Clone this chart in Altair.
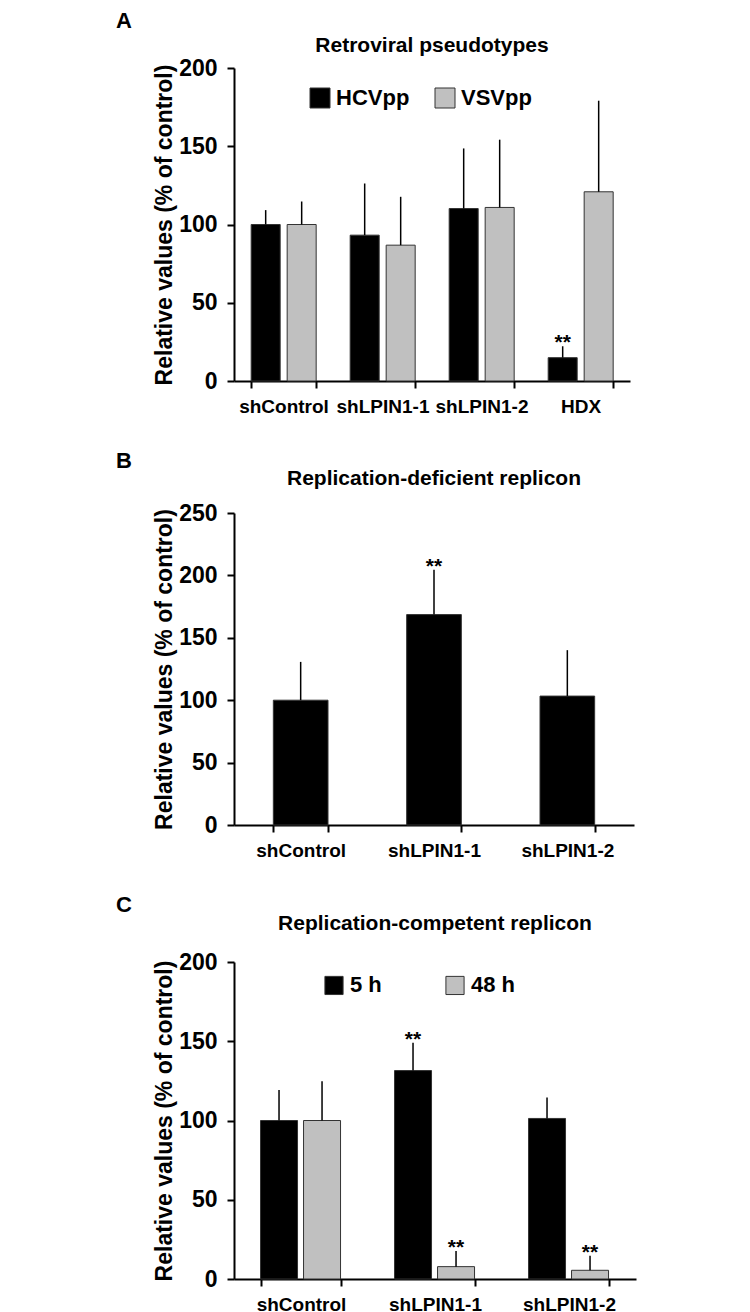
import altair as alt
import pandas as pd

# ---------------- Panel A ----------------
a_categories = ["shControl", "shLPIN1-1", "shLPIN1-2", "HDX"]
a_series = ["HCVpp", "VSVpp"]
a_hcv = [100, 93.2, 110.2, 14.9]
a_hcv_sd = [9.2, 33.0, 38.4, 7.3]
a_hcv_sig = ["", "", "", "**"]
a_vsv = [100, 86.8, 110.9, 120.9]
a_vsv_sd = [14.7, 30.9, 43.3, 58.2]
a_vsv_sig = ["", "", "", ""]

# ---------------- Panel B ----------------
b_categories = ["shControl", "shLPIN1-1", "shLPIN1-2"]
b_values = [100, 168.6, 103.3]
b_sd = [30.7, 36.0, 36.8]
b_sig = ["", "**", ""]

# ---------------- Panel C ----------------
c_categories = ["shControl", "shLPIN1-1", "shLPIN1-2"]
c_series = ["5 h", "48 h"]
c_5h = [100, 131.5, 101.3]
c_5h_sd = [19.3, 17.5, 13.2]
c_5h_sig = ["", "**", ""]
c_48h = [100, 7.8, 5.5]
c_48h_sd = [24.8, 9.8, 9.2]
c_48h_sig = ["", "**", "**"]

BLACK = "#000000"
GRAY = "#c0c0c0"
FONT = "Liberation Sans"
YTITLE = "Relative values (% of control)"


def grouped_df(cats, names, vals, sds, sigs, cf, sf):
    rows = []
    for name, v, s, g in zip(names, vals, sds, sigs):
        for c, vv, ss, gg in zip(cats, v, s, g):
            rows.append({cf: c, sf: name, "value": vv, "top": vv + ss, "sig": gg})
    return pd.DataFrame(rows)


def y_axis(maxv):
    return alt.Axis(values=list(range(0, maxv + 1, 50)), title=YTITLE,
                    titleFontSize=23, titleFontWeight="bold", titlePadding=2,
                    labelFontSize=23, labelFontWeight="bold", labelPadding=10,
                    tickSize=7, grid=False)


x_axis = alt.Axis(title=None, labelAngle=0, labelFontSize=19, labelFontWeight="bold",
                  labelPadding=9, tickSize=7, tickBand="extent", labelOverlap=False,
                  labelLimit=300)


def header_layers(letter, headline, w, letter_y, head_y):
    let = alt.Chart(pd.DataFrame({"t": [letter]})).mark_text(
        fontSize=22, fontWeight="bold", align="left", baseline="alphabetic",
        color="black"
    ).encode(x=alt.value(-118), y=alt.value(letter_y), text="t:N")
    head = alt.Chart(pd.DataFrame({"t": [headline]})).mark_text(
        fontSize=21, fontWeight="bold", align="center", baseline="alphabetic",
        color="black"
    ).encode(x=alt.value(w / 2), y=alt.value(head_y), text="t:N")
    return [let, head]


def grouped_panel(tag, cats, names, vals, sds, sigs, maxv, headline, letter,
                  letter_y, head_y, pin, pon, pair_w, opin, legx, legy, symsize,
                  colpad, w, h):
    cf, sf = "cat" + tag, "series" + tag
    df = grouped_df(cats, names, vals, sds, sigs, cf, sf)
    base = alt.Chart(df)
    xenc = alt.X(f"{cf}:N", sort=cats, axis=x_axis,
                 scale=alt.Scale(paddingInner=pin, paddingOuter=pon))
    xoff = alt.XOffset(f"{sf}:N", sort=names,
                       scale=alt.Scale(domain=names, range=[0, pair_w],
                                       paddingInner=opin, paddingOuter=0))
    yenc = alt.Y("value:Q", axis=y_axis(maxv),
                 scale=alt.Scale(domain=[0, maxv], nice=False))
    bars = base.mark_bar(stroke="#333333", strokeWidth=1).encode(
        x=xenc, xOffset=xoff, y=yenc,
        color=alt.Color(f"{sf}:N", sort=names,
                        scale=alt.Scale(domain=names, range=[BLACK, GRAY]),
                        legend=alt.Legend(title=None, orient="none", legendX=legx,
                                          legendY=legy, direction="horizontal",
                                          symbolType="square", symbolSize=symsize,
                                          symbolStrokeColor="#333333",
                                          symbolStrokeWidth=1, labelFontSize=22,
                                          labelFontWeight="bold", labelOffset=5,
                                          columnPadding=colpad)),
    )
    err = base.mark_rule(color="black", strokeWidth=1.5).encode(
        x=alt.X(f"{cf}:N", sort=cats), xOffset=alt.XOffset(f"{sf}:N", sort=names),
        y="top:Q", y2="value:Q")
    sig = base.mark_text(fontSize=21, fontWeight="bold", baseline="alphabetic",
                         dy=3, color="black").encode(
        x=alt.X(f"{cf}:N", sort=cats), xOffset=alt.XOffset(f"{sf}:N", sort=names),
        y="top:Q", text="sig:N")
    return alt.layer(bars, err, sig,
                     *header_layers(letter, headline, w, letter_y, head_y)).properties(
        width=w, height=h)


chartA = grouped_panel("A", a_categories, a_series, [a_hcv, a_vsv], [a_hcv_sd, a_vsv_sd],
                       [a_hcv_sig, a_vsv_sig], 200, "Retroviral pseudotypes",
                       "A", -40, -16, 0.347, 0.1735, 65, 0.194, 75, 19, 400, 23,
                       396, 313)
chartC = grouped_panel("C", c_categories, c_series, [c_5h, c_48h], [c_5h_sd, c_48h_sd],
                       [c_5h_sig, c_48h_sig], 200, "Replication-competent replicon",
                       "C", -50, -32, 0.396, 0.198, 80, 0.14, 89, 12, 330, 61,
                       402, 317)

WB = 400
dfB = pd.DataFrame({"catB": b_categories, "value": b_values,
                    "top": [v + s for v, s in zip(b_values, b_sd)], "sig": b_sig})
baseB = alt.Chart(dfB)
xB = alt.X("catB:N", sort=b_categories, axis=x_axis,
           scale=alt.Scale(paddingInner=0.59, paddingOuter=0.295))
barsB = baseB.mark_bar(color=BLACK, stroke="#333333", strokeWidth=1).encode(
    x=xB, y=alt.Y("value:Q", axis=y_axis(250), scale=alt.Scale(domain=[0, 250], nice=False)))
errB = baseB.mark_rule(color="black", strokeWidth=1.5).encode(
    x=alt.X("catB:N", sort=b_categories), y="top:Q", y2="value:Q")
sigB = baseB.mark_text(fontSize=21, fontWeight="bold", baseline="alphabetic", dy=3,
                       color="black").encode(
    x=alt.X("catB:N", sort=b_categories), y="top:Q", text="sig:N")
chartB = alt.layer(barsB, errB, sigB,
                   *header_layers("B", "Replication-deficient replicon", WB, -45, -28)
                   ).properties(width=WB, height=312)

chart = alt.vconcat(chartA, chartB, chartC, spacing=34).resolve_scale(
    x="independent", y="independent", color="independent", xOffset="independent"
).resolve_legend(color="independent").properties(
    padding={"left": 108, "top": 2, "right": 5, "bottom": 0}
).configure(font=FONT).configure_view(stroke=None).configure_axis(
    domainColor="black", domainWidth=2, tickColor="black", tickWidth=2,
    labelColor="black", titleColor="black"
)

chart.save("out.html", embed_options={"renderer": "svg", "actions": False})
